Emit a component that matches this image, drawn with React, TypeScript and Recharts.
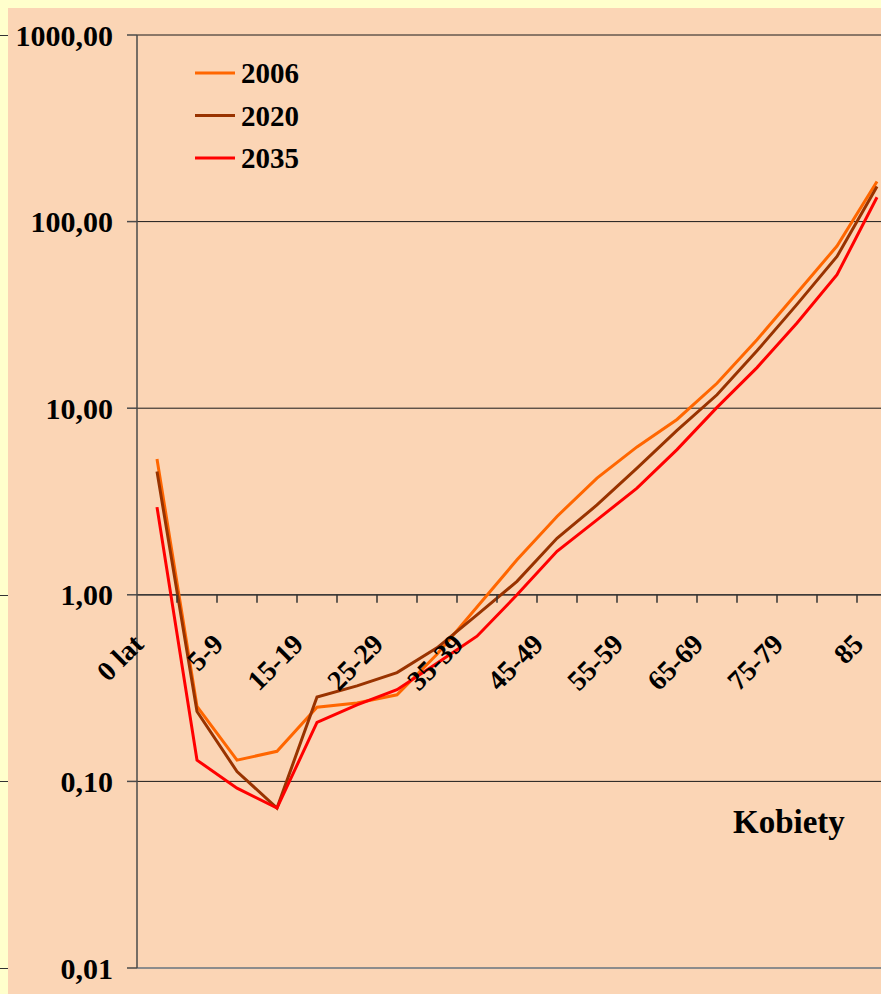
import { LineChart, Line, XAxis, YAxis, CartesianGrid, ReferenceLine } from "recharts";

const AGE_GROUPS = [
  "0 lat", "1-4", "5-9", "10-14", "15-19", "20-24", "25-29", "30-34", "35-39", "40-44",
  "45-49", "50-54", "55-59", "60-64", "65-69", "70-74", "75-79", "80-84", "85",
];

const RATES_2006 = [5.34, 0.252, 0.13, 0.145, 0.25, 0.263, 0.291, 0.48, 0.86, 1.54, 2.63, 4.22, 6.2, 8.7, 13.6, 23.3, 41.4, 74, 164];
const RATES_2020 = [4.58, 0.237, 0.113, 0.072, 0.283, 0.325, 0.383, 0.52, 0.78, 1.18, 2.01, 3.03, 4.77, 7.6, 11.8, 20.3, 36, 65, 154];
const RATES_2035 = [2.95, 0.13, 0.092, 0.072, 0.207, 0.257, 0.31, 0.43, 0.6, 1.0, 1.71, 2.52, 3.73, 6.0, 10.1, 16.5, 28.6, 51.9, 135];

const Y_TICKS = [0.01, 0.1, 1, 10, 100, 1000];

const SERIES = [
  { key: "2006", values: RATES_2006, color: "#FF6600" },
  { key: "2020", values: RATES_2020, color: "#993300" },
  { key: "2035", values: RATES_2035, color: "#FF0000" },
];

const data = AGE_GROUPS.map((age, i) => {
  const row: Record<string, string | number> = { age };
  SERIES.forEach((s) => (row[s.key] = s.values[i]));
  return row;
});

// chart geometry (inside the peach panel)
const CHART_W = 889;
const CHART_H = 986;
const TOP = 27;
const Y_AXIS_W = 129;
const X_AXIS_H = 26;
const PLOT_H = CHART_H - TOP - X_AXIS_H;
const PLOT_W = CHART_W - Y_AXIS_W;
const HALF_BAND = PLOT_W / AGE_GROUPS.length / 2;
const logSpan = Math.log10(1000) - Math.log10(0.01);
// category axis crosses the value axis at 1,00
const AXIS_Y = TOP + (PLOT_H * (Math.log10(1000) - Math.log10(1))) / logSpan;

const FONT = "'Liberation Serif', 'Times New Roman', serif";

function AgeTick(props: any) {
  const { x, index, payload } = props;
  const lx = x - 12;
  const ly = AXIS_Y + 51;
  return (
    <g>
      {index > 0 && (
        <line x1={x - HALF_BAND} x2={x - HALF_BAND} y1={AXIS_Y} y2={AXIS_Y + 8} stroke="#333" strokeWidth={1.5} />
      )}
      {index % 2 === 0 && (
        <text
          x={lx}
          y={ly}
          transform={`rotate(-45 ${lx} ${ly})`}
          textAnchor="end"
          fontFamily={FONT}
          fontWeight="bold"
          fontSize={28}
          fill="#000"
        >
          {payload.value}
        </text>
      )}
    </g>
  );
}

export default function App() {
  return (
    <div style={{ position: "absolute", left: 0, top: 0, width: 881, height: 994, overflow: "hidden", background: "#FFFFCC" }}>
      {[35, 595, 781, 968].map((y) => (
        <div key={y} style={{ position: "absolute", left: 0, top: y, width: 8, height: 1, background: "#333" }} />
      ))}
      <div style={{ position: "absolute", left: 8, top: 8, width: 873, height: 986, overflow: "hidden", background: "#FBD5B5" }}>
        <LineChart width={CHART_W} height={CHART_H} data={data} margin={{ top: TOP, right: 0, bottom: 0, left: 0 }}>
          <CartesianGrid vertical={false} stroke="#1a1a1a" strokeWidth={1} />
          <XAxis
            dataKey="age"
            scale="band"
            height={X_AXIS_H}
            interval={0}
            axisLine={false}
            tickLine={false}
            tick={<AgeTick />}
          />
          <YAxis
            scale="log"
            domain={[0.01, 1000]}
            ticks={Y_TICKS}
            allowDataOverflow
            width={Y_AXIS_W}
            axisLine={{ stroke: "#4a4a4a", strokeWidth: 1.5 }}
            tickLine={{ stroke: "#4a4a4a", strokeWidth: 1.5 }}
            tickSize={10}
            tickMargin={14}
            tickFormatter={(v: number) => v.toFixed(2).replace(".", ",")}
            tick={{ fontFamily: FONT, fontWeight: "bold", fontSize: 30, fill: "#000" }}
          />
          <ReferenceLine y={1} stroke="#333" strokeWidth={1.2} />
          <ReferenceLine y={0.01} stroke="#8c8c8c" strokeWidth={2} />
          {SERIES.map((s) => (
            <Line
              key={s.key}
              dataKey={s.key}
              stroke={s.color}
              strokeWidth={3}
              dot={false}
              activeDot={false}
              isAnimationActive={false}
            />
          ))}
        </LineChart>
        <svg style={{ position: "absolute", left: 0, top: 0 }} width={873} height={986}>
          {SERIES.map((s, i) => (
            <g key={s.key}>
              <line x1={187} x2={227} y1={65 + i * 42.5} y2={65 + i * 42.5} stroke={s.color} strokeWidth={3} />
              <text x={233} y={75 + i * 42.5} fontFamily={FONT} fontWeight="bold" fontSize={29} fill="#000">
                {s.key}
              </text>
            </g>
          ))}
          <text x={725} y={825} fontFamily={FONT} fontWeight="bold" fontSize={33} fill="#000">
            Kobiety
          </text>
        </svg>
      </div>
    </div>
  );
}
